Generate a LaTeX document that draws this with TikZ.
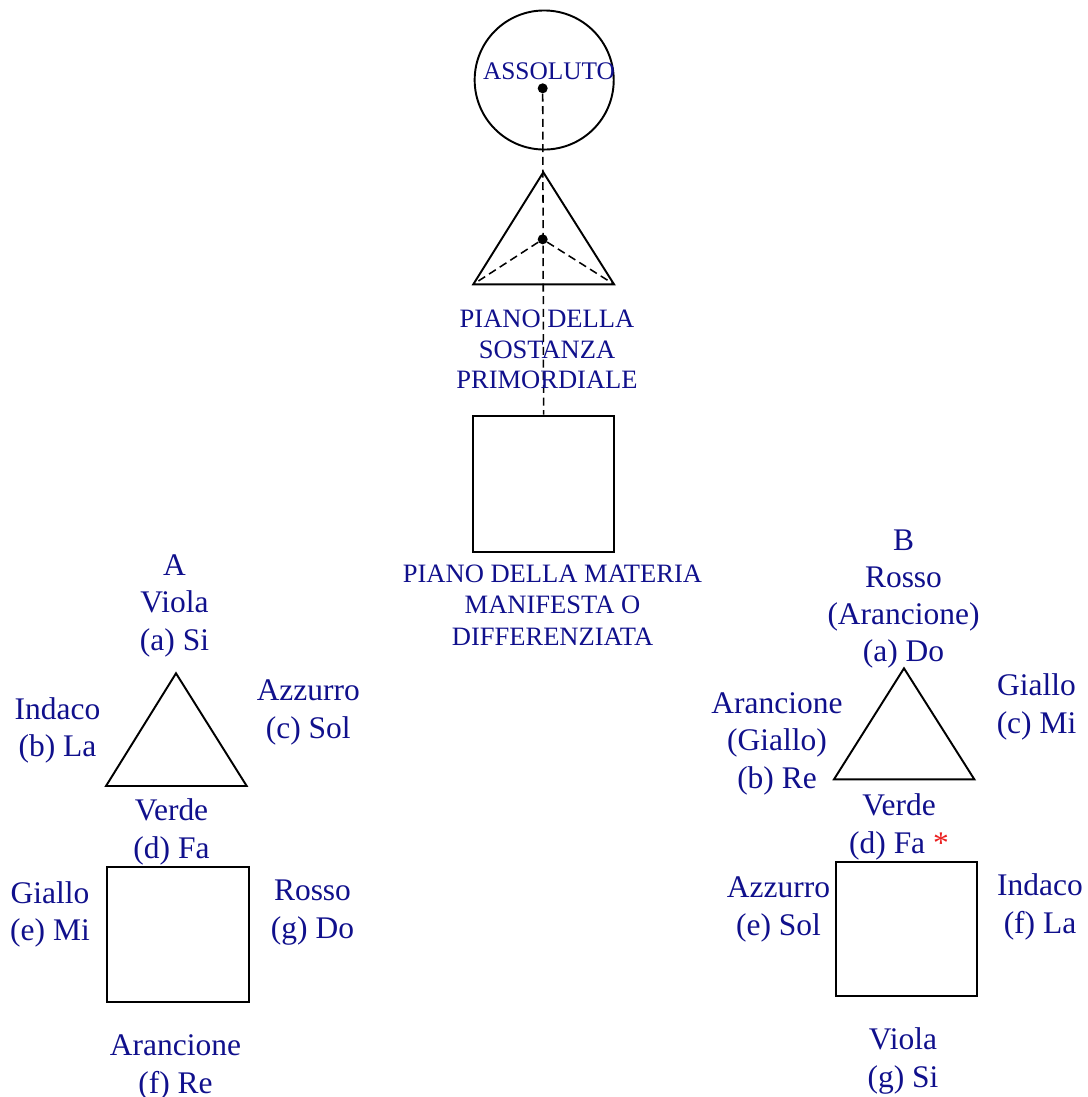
\documentclass[tikz,border=0pt]{standalone}
\usepackage{fontspec}
\setmainfont{Liberation Serif}
\definecolor{txtblue}{RGB}{16,16,140}
\definecolor{starred}{RGB}{235,30,30}
\begin{document}
\begin{tikzpicture}[x=0.75pt,y=-0.75pt,
  lab/.style={text=txtblue,font=\fontsize{23.6pt}{28.1pt}\selectfont,align=center,anchor=base,inner sep=0pt},
  plane/.style={text=txtblue,font=\fontsize{19.9pt}{22.8pt}\selectfont,align=center,anchor=base,inner sep=0pt},
  outl/.style={draw,line width=1.45pt,line join=miter},
  blackdot/.style={circle,fill=black,inner sep=0pt,minimum size=7.5pt},
  dashline/.style={line width=1.15pt,dash pattern=on 6pt off 3.5pt},
  box/.style={outl,rectangle,inner sep=0pt}
]
\useasboundingbox (0,0) rectangle (1088,1097);

% ---------- central column ----------
\node[outl,circle,minimum size=104.3pt,inner sep=0pt] (abs) at (544.2,80) {};
\node[plane,font=\fontsize{19pt}{22pt}\selectfont] (abslab) at (549,79.3) {ASSOLUTO};
\node[blackdot] (d1) at (542.7,88.3) {};

\coordinate (t0a) at (543.3,172.3);
\coordinate (t0b) at (473.3,284.3);
\coordinate (t0c) at (614,284.3);
\draw[outl] (t0a) -- (t0b) -- (t0c) -- cycle;
\node[blackdot] (d2) at (542.7,239.3) {};
\draw[dashline] (d2) -- (t0b);
\draw[dashline] (d2) -- (t0c);

\node[box,minimum width=105.5pt,minimum height=102pt] (sq0) at (543.6,483.7) {};
\draw[dashline] (d1) -- (sq0.north);

\node[plane] (sost) at (547,388.5) {PIANO DELLA\\SOSTANZA\\PRIMORDIALE};
\node[plane,font=\fontsize{19.9pt}{23.3pt}\selectfont] (mat) at (552.5,645) {PIANO DELLA MATERIA\\MANIFESTA O\\DIFFERENZIATA};

% ---------- group A ----------
\coordinate (tAa) at (176,673.3);
\coordinate (tAb) at (106,786);
\coordinate (tAc) at (246.7,786);
\draw[outl] (tAa) -- (tAb) -- (tAc) -- cycle;
\node[box,minimum width=106.3pt,minimum height=100.8pt] (sqA) at (178.2,934.5) {};

\node[lab] (Aa) at (174.5,650) {A\\Viola\\(a) Si};
\node[lab] (Ab) at (57.5,756.7) {Indaco\\(b) La};
\node[lab] (Ac) at (308.3,738) {Azzurro\\(c) Sol};
\node[lab] (Ad) at (171.5,858.3) {Verde\\(d) Fa};
\node[lab] (Ae) at (50,940.7) {Giallo\\(e) Mi};
\node[lab] (Ag) at (312.5,938.3) {Rosso\\(g) Do};
\node[lab] (Af) at (175.5,1093) {Arancione\\(f) Re};

% ---------- group B ----------
\coordinate (tBa) at (904,668.3);
\coordinate (tBb) at (834,779.3);
\coordinate (tBc) at (974.3,779.3);
\draw[outl] (tBa) -- (tBb) -- (tBc) -- cycle;
\node[box,minimum width=105.75pt,minimum height=100.7pt] (sqB) at (906.2,928.85) {};

\node[lab,font=\fontsize{23.6pt}{27.75pt}\selectfont] (Ba) at (903.5,661.7) {B\\Rosso\\(Arancione)\\(a) Do};
\node[lab] (Bb) at (777,788.3) {Arancione\\(Giallo)\\(b) Re};
\node[lab] (Bc) at (1036.5,733.3) {Giallo\\(c) Mi};
\node[lab] (Bd) at (899,853.3) {Verde\\(d) Fa {\color{starred}*}};
\node[lab] (Be) at (778.5,935) {Azzurro\\(e) Sol};
\node[lab] (Bf) at (1040,933.3) {Indaco\\(f) La};
\node[lab] (Bg) at (903,1087.3) {Viola\\(g) Si};
\end{tikzpicture}
\end{document}
